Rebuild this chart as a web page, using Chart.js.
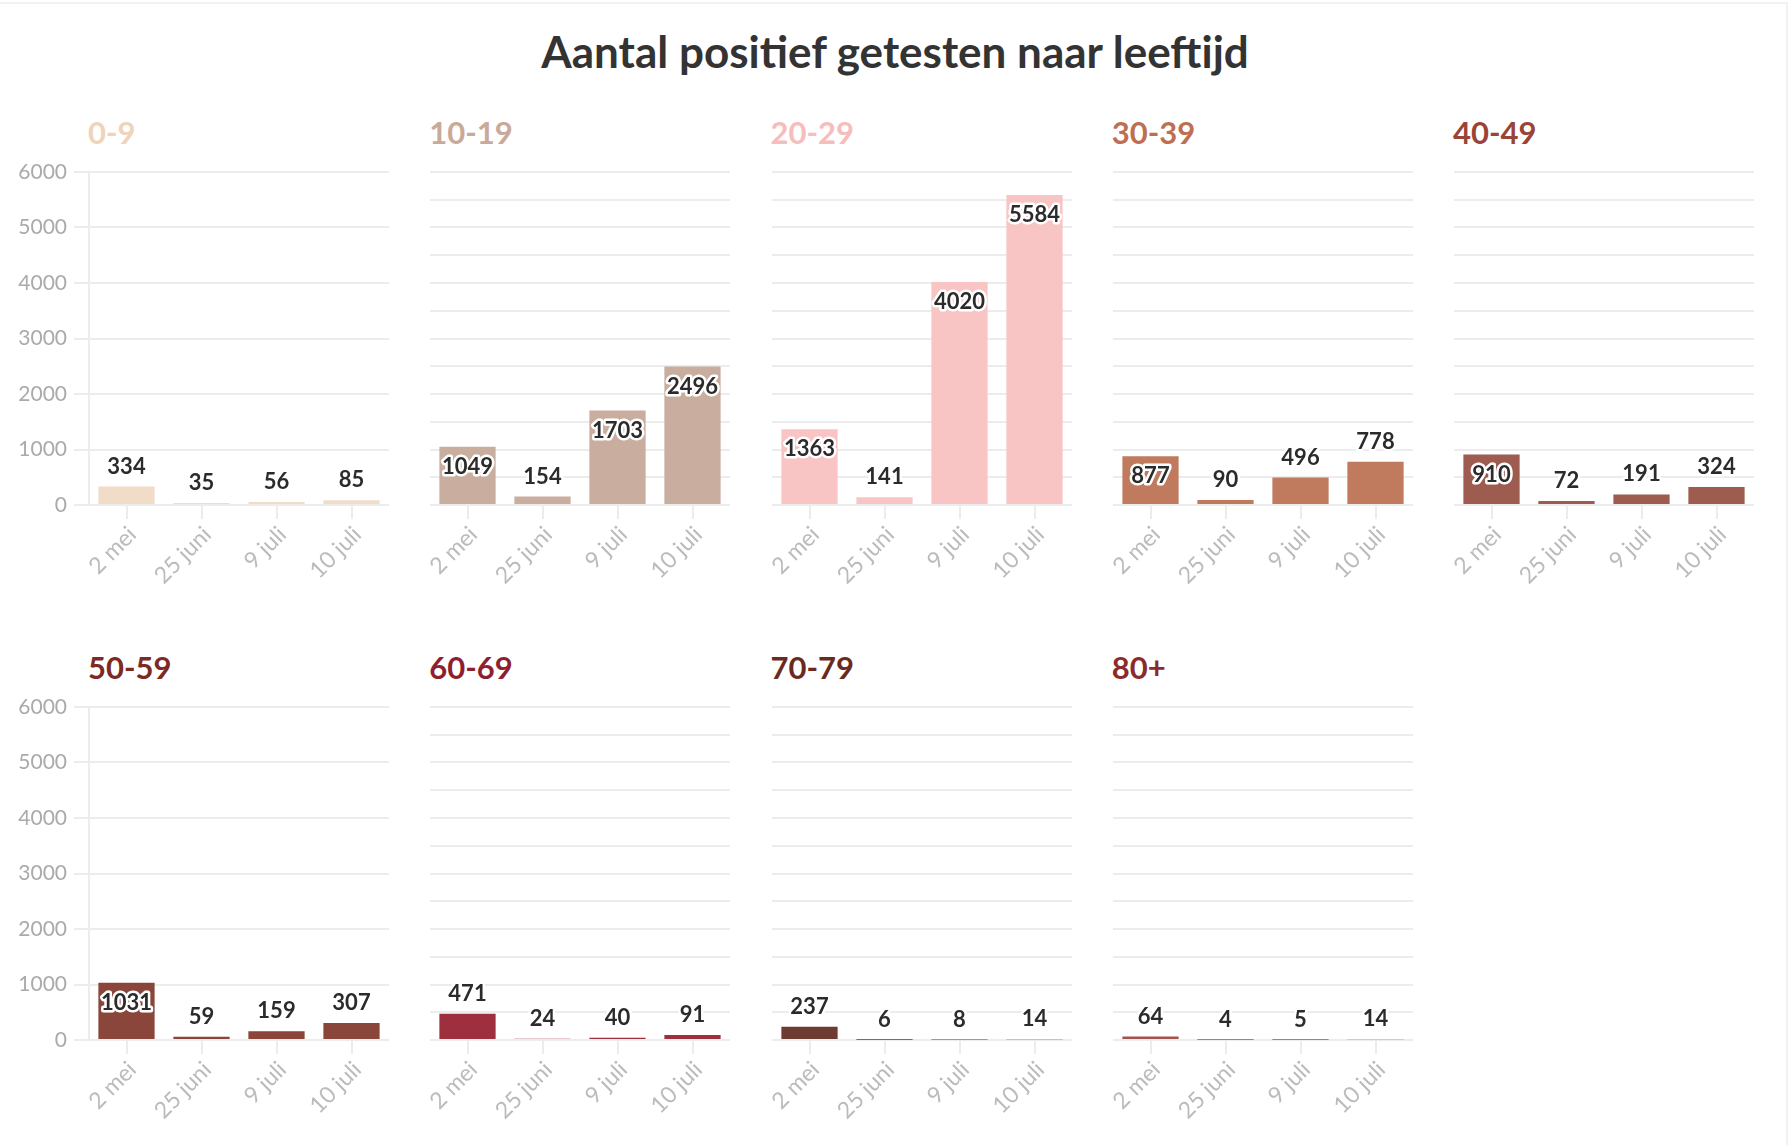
<!DOCTYPE html>
<html>
<head>
<meta charset="utf-8">
<script src="https://cdn.jsdelivr.net/npm/chart.js@4.4.0/dist/chart.umd.min.js"></script>
<style>
  html, body { margin: 0; padding: 0; background: #fff; }
  #wrap { position: relative; width: 1790px; height: 1145px; overflow: hidden; font-family: Lato, sans-serif; }
  #frame { position: absolute; left: 0; top: 2px; width: 1786px; height: 1200px; border-top: 2px solid #f2f2f2; border-right: 2px solid #f2f2f2; }
  h1 { position: absolute; left: 0; width: 1790px; top: 22px; margin: 0; text-align: center; font-size: 44px; line-height: 58px; font-weight: 700; color: #333; }
  .ptitle { position: absolute; font-size: 31px; line-height: 36px; font-weight: 700; }
  canvas { position: absolute; }
</style>
</head>
<body>
<div id="wrap">
  <div id="frame"></div>
  <h1>Aantal positief getesten naar leeftijd</h1>
</div>
<script>
// dates on the x axis
const dates = ['2 mei', '25 juni', '9 juli', '10 juli'];

// age groups
const groups = ['0-9', '10-19', '20-29', '30-39', '40-49', '50-59', '60-69', '70-79', '80+'];

// positive tests per age group, one value per date
const v0_9   = [334, 35, 56, 85];
const v10_19 = [1049, 154, 1703, 2496];
const v20_29 = [1363, 141, 4020, 5584];
const v30_39 = [877, 90, 496, 778];
const v40_49 = [910, 72, 191, 324];
const v50_59 = [1031, 59, 159, 307];
const v60_69 = [471, 24, 40, 91];
const v70_79 = [237, 6, 8, 14];
const v80    = [64, 4, 5, 14];
const seriesValues = [v0_9, v10_19, v20_29, v30_39, v40_49, v50_59, v60_69, v70_79, v80];

// y axis
const yMax = 6000;
const yStep = 500;
const yLabelStep = 1000;

const barColors   = ['#f1dcc8', '#c9ae9f', '#f8c4c4', '#c07a5d', '#9e5b4f', '#8a463b', '#9d2f3f', '#6d3b31', '#a5534e'];
const titleColors = ['#efd3bb', '#c9a998', '#f7bcbc', '#be6f52', '#9a4438', '#7e2a24', '#8e1f30', '#6a2a1e', '#8c2b2c'];

// value labels: on top of the bar, or just inside the top when the bar is tall
const valueLabels = {
  id: 'valueLabels',
  afterDatasetsDraw(chart) {
    const ctx = chart.ctx;
    const ds = chart.data.datasets[0];
    chart.getDatasetMeta(0).data.forEach((bar, i) => {
      const v = ds.data[i];
      const y = v > 800 ? bar.y + 20 : bar.y - 20;
      ctx.save();
      ctx.font = 'bold 22px Lato, sans-serif';
      ctx.textAlign = 'center';
      ctx.textBaseline = 'middle';
      ctx.lineJoin = 'round';
      ctx.lineWidth = 5;
      ctx.strokeStyle = '#fff';
      ctx.strokeText(String(v), bar.x, y);
      ctx.fillStyle = '#2b2b2b';
      ctx.fillText(String(v), bar.x, y);
      ctx.restore();
    });
  }
};

const wrap = document.getElementById('wrap');
const colStep = 341.25;
const rowTops = [172, 707];

groups.forEach((name, k) => {
  const col = k % 5;
  const row = Math.floor(k / 5);
  const plotLeft = 89 + colStep * col;
  const plotTop = rowTops[row];
  const first = col === 0;

  const t = document.createElement('div');
  t.className = 'ptitle';
  t.textContent = name;
  t.style.left = (plotLeft - 1) + 'px';
  t.style.top = (plotTop - 58) + 'px';
  t.style.color = titleColors[k];
  wrap.appendChild(t);

  const cv = document.createElement('canvas');
  cv.style.left = (plotLeft - 89) + 'px';
  cv.style.top = (plotTop - 22) + 'px';
  cv.style.width = '401px';
  cv.style.height = '445px';
  cv.width = 401;
  cv.height = 445;
  wrap.appendChild(cv);

  new Chart(cv.getContext('2d'), {
    type: 'bar',
    data: {
      labels: dates,
      datasets: [{
        data: seriesValues[k],
        backgroundColor: barColors[k],
        barPercentage: 0.75,
        categoryPercentage: 1.0
      }]
    },
    options: {
      responsive: false,
      animation: false,
      layout: { padding: { top: 22, right: 12, bottom: 0, left: 0 } },
      plugins: {
        legend: { display: false },
        tooltip: { enabled: false },
        title: { display: false }
      },
      scales: {
        x: {
          afterFit: s => { s.height = 90; },
          border: { display: false },
          grid: { drawOnChartArea: false, drawTicks: true, tickLength: 14, offset: false, color: '#ececec', lineWidth: 2 },
          ticks: {
            color: '#bbbbbb',
            font: { family: 'Lato, sans-serif', size: 23 },
            minRotation: 45,
            maxRotation: 45,
            padding: 2,
            labelOffset: 6
          }
        },
        y: {
          min: 0,
          max: yMax,
          afterFit: s => { s.width = 89; },
          border: { display: first, color: '#ececec', width: 2 },
          grid: { color: '#ececec', lineWidth: 2, drawTicks: first, tickLength: 15 },
          ticks: {
            display: first,
            stepSize: yStep,
            color: '#aaaaaa',
            padding: 7,
            font: { family: 'Lato, sans-serif', size: 21 },
            callback: v => (v % yLabelStep === 0 ? v : '')
          }
        }
      }
    },
    plugins: [valueLabels]
  });
});
</script>
</body>
</html>
